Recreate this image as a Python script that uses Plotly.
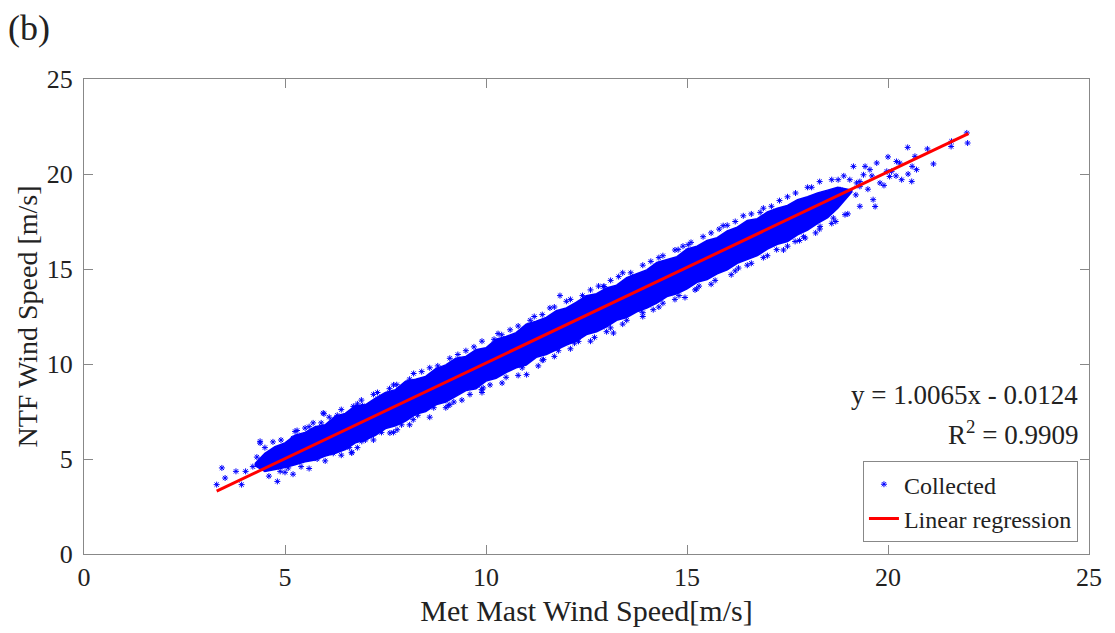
import plotly.graph_objects as go

# ---- data ----
# dense cloud envelope (Met Mast speed vs NTF speed)
env_x = [4.25, 4.5, 4.75, 5.0, 5.25, 5.5, 5.75, 6.0, 6.25, 6.5, 6.75, 7.0, 7.25, 7.5, 7.75,
         8.0, 8.25, 8.5, 8.75, 9.0, 9.25, 9.5, 9.75, 10.0, 10.25, 10.5, 10.75, 11.0, 11.25, 11.5,
         11.75, 12.0, 12.25, 12.5, 12.75, 13.0, 13.25, 13.5, 13.75, 14.0, 14.25, 14.5, 14.75, 15.0,
         15.25, 15.5, 15.75, 16.0, 16.25, 16.5, 16.75, 17.0, 17.25, 17.5, 17.75, 18.0, 18.25, 18.5,
         18.75, 19.1]
env_hi = [4.75, 5.3, 5.65, 5.85, 6.25, 6.4, 6.7, 6.8, 7.25, 7.4, 7.8, 7.85, 8.2, 8.5, 8.65,
          9.1, 9.2, 9.35, 9.75, 9.95, 10.3, 10.4, 10.75, 10.85, 11.3, 11.45, 11.65, 12.1, 12.25, 12.45,
          12.8, 12.95, 13.25, 13.6, 13.7, 14.0, 14.15, 14.55, 14.75, 14.95, 15.35, 15.5, 15.65, 16.05,
          16.2, 16.5, 16.65, 17.0, 17.2, 17.55, 17.65, 18.0, 18.2, 18.35, 18.65, 18.8, 19.0, 19.15,
          19.3, 19.15]
env_lo = [4.65, 4.35, 4.45, 4.55, 4.7, 4.85, 4.95, 5.15, 5.3, 5.5, 5.85, 6.0, 6.25, 6.6, 6.75,
          7.0, 7.35, 7.5, 7.85, 8.0, 8.3, 8.6, 8.7, 9.1, 9.25, 9.55, 9.8, 9.95, 10.35, 10.5,
          10.75, 11.0, 11.2, 11.55, 11.7, 11.95, 12.3, 12.45, 12.75, 12.95, 13.2, 13.55, 13.7, 13.95,
          14.3, 14.45, 14.75, 14.95, 15.3, 15.5, 15.7, 16.05, 16.3, 16.45, 16.8, 17.05, 17.4, 17.7,
          18.2, 19.05]

# individual (sparse / edge) collected points
pts_x = [3.30, 3.43, 3.51, 3.78, 3.92, 4.02, 4.38, 4.81, 4.88, 5.08, 5.25, 5.50, 5.97, 6.66, 6.91,
         7.61, 7.79, 6.93, 5.95, 8.19, 9.06, 7.78, 6.70, 6.66, 4.38,
         11.84, 12.92, 13.17, 13.83, 14.16, 11.01, 11.43, 12.30, 9.93, 9.10, 10.39, 11.59,
         15.24, 14.95, 16.28, 15.90, 14.78, 12.94, 9.89,
         17.23, 17.69, 17.94, 18.93, 16.82, 15.03, 13.87,
         21.96, 21.98, 21.57, 21.58, 20.98, 21.13, 20.49, 20.67, 20.71, 20.59, 20.29, 20.21, 20.04,
         20.34, 19.72, 19.14, 19.43, 19.55, 19.39, 19.63, 19.68, 19.80, 19.97, 20.09, 18.64, 18.76,
         19.05, 19.22, 19.30, 18.81, 18.47, 18.39, 18.31,
         4.5, 4.7, 5.2, 5.6, 5.9, 6.3, 6.8, 7.2, 7.6, 8.1, 8.4, 8.8, 9.3, 9.7, 10.2, 10.6, 11.1,
         11.4, 12.0, 12.4, 12.8, 13.3, 13.6, 14.1, 14.4, 14.9, 15.4, 15.8, 16.2, 16.6, 17.1, 17.5,
         18.0, 18.3,
         4.6, 5.0, 5.4, 5.8, 6.2, 6.6, 7.0, 7.4, 7.9, 8.3, 8.7, 9.2, 9.6, 10.1, 10.5, 10.9, 11.4,
         11.8, 12.2, 12.7, 13.1, 13.5, 13.9, 14.4, 14.8, 15.3, 15.7, 16.2, 16.6, 17.0, 17.5, 17.9,
         18.3, 18.7,
         4.9, 5.3, 5.7, 6.1, 6.4, 6.9, 7.3, 7.7, 8.2, 8.6, 9.1, 9.5, 9.9, 10.3, 10.8, 11.2, 11.7,
         12.1, 12.6, 13.1, 13.4, 13.9, 14.3, 14.7, 15.1, 15.6, 16.0, 16.4, 16.9, 17.3, 17.7, 18.1,
         18.6, 18.9,
         5.2, 5.6, 6.0, 6.4, 6.8, 7.2, 7.7, 8.1, 8.6, 9.0, 9.4, 9.9, 10.4, 10.8, 11.3, 11.7, 12.1,
         12.6, 13.0, 13.4, 13.9, 14.3, 14.7, 15.2, 15.6, 16.1, 16.5, 16.9, 17.4, 17.8, 18.2, 18.6,
         19.0, 19.3,
         19.2, 19.5, 19.9, 20.2, 20.5, 20.0, 19.6, 19.3, 20.6, 4.3, 4.45, 4.2]
pts_y = [3.65, 4.53, 4.00, 4.35, 3.65, 4.35, 5.84, 3.82, 4.35, 4.53, 6.45, 6.63, 7.38, 5.32, 5.93,
         6.37, 6.54, 7.81, 7.42, 7.07, 7.81, 8.91, 7.77, 5.35, 5.93,
         13.60, 14.08, 11.63, 12.86, 12.86, 9.44, 10.23, 11.19, 8.74, 7.86, 11.54, 12.95,
         13.95, 13.50, 15.05, 17.28, 16.02, 14.08, 8.65,
         16.02, 16.45, 16.63, 17.86, 17.98, 16.28, 12.95,
         22.16, 21.63, 21.45, 21.72, 21.32, 20.53, 21.40, 20.93, 20.23, 19.61, 20.58, 20.66, 19.87,
         19.70, 20.58, 20.40, 20.40, 20.23, 19.96, 18.65, 18.29, 19.53, 20.14, 20.14, 17.68, 19.70,
         19.70, 19.53, 19.35, 19.17, 18.82, 18.12, 17.24,
         5.6, 5.9, 6.1, 6.7, 6.9, 7.3, 7.9, 8.4, 8.7, 9.2, 9.6, 9.9, 10.5, 10.9, 11.3, 11.8, 12.3,
         12.6, 13.3, 13.6, 14.1, 14.6, 14.8, 15.4, 15.7, 16.2, 16.7, 17.1, 17.5, 17.9, 18.3, 18.8,
         19.3, 19.6,
         4.1, 4.3, 4.6, 5.0, 5.3, 5.6, 6.0, 6.4, 6.8, 7.3, 7.7, 8.0, 8.4, 8.9, 9.3, 9.8, 10.2,
         10.7, 11.1, 11.4, 11.9, 12.3, 12.7, 13.2, 13.6, 14.1, 14.4, 14.9, 15.3, 15.7, 16.2, 16.7,
         17.1, 17.5,
         6.0, 6.5, 6.9, 7.2, 7.6, 8.1, 8.5, 8.9, 9.5, 9.8, 10.3, 10.7, 11.2, 11.6, 12.0, 12.5, 13.0,
         13.4, 13.9, 14.4, 14.8, 15.2, 15.6, 16.0, 16.4, 16.9, 17.3, 17.8, 18.2, 18.6, 19.0, 19.3,
         19.7, 19.9,
         4.2, 4.5, 4.9, 5.2, 5.6, 6.0, 6.4, 6.8, 7.2, 7.7, 8.1, 8.5, 9.0, 9.4, 9.9, 10.4, 10.8,
         11.2, 11.7, 12.1, 12.5, 13.0, 13.4, 13.9, 14.2, 14.7, 15.2, 15.6, 16.0, 16.5, 16.9, 17.4,
         17.9, 18.3,
         18.9, 19.2, 19.4, 19.9, 20.0, 20.9, 19.9, 19.6, 20.4, 5.1, 4.9, 4.6]

# regression line end points (y = 1.0065x - 0.0124)
reg_x = [3.3, 22.0]
reg_y = [3.31, 22.13]

x_ticks = [0, 5, 10, 15, 20, 25]
y_ticks = [0, 5, 10, 15, 20, 25]

FONT = "Liberation Serif"
BLUE = "#0000FF"
TXT = "#222222"

fig = go.Figure()

# dense part of the cloud
fig.add_trace(go.Scatter(
    x=env_x + env_x[::-1], y=env_hi + env_lo[::-1],
    fill="toself", fillcolor=BLUE, mode="lines",
    line=dict(color=BLUE, width=1.5), showlegend=False, hoverinfo="skip"))

fig.add_trace(go.Scatter(
    x=pts_x, y=pts_y, mode="markers", name="Collected",
    marker=dict(symbol="asterisk-open", size=5, color=BLUE, line=dict(color=BLUE, width=1))))

fig.add_trace(go.Scatter(
    x=reg_x, y=reg_y, mode="lines", name="Linear regression",
    line=dict(color="#FF0000", width=3)))

axis_common = dict(
    showline=True, linecolor="#888888", linewidth=1, mirror="ticks",
    ticks="inside", ticklen=9, tickcolor="#888888", tickwidth=1,
    showgrid=False, zeroline=False,
    tickfont=dict(family=FONT, size=26, color=TXT),
)

fig.update_layout(
    width=1115, height=633,
    margin=dict(l=84, r=26, t=79, b=79),
    paper_bgcolor="white", plot_bgcolor="white",
    font=dict(family=FONT, size=26, color=TXT),
    xaxis=dict(range=[0, 25], tickvals=x_ticks,
               title=dict(text="Met Mast Wind Speed[m/s]", font=dict(family=FONT, size=30, color=TXT), standoff=8),
               **axis_common),
    yaxis=dict(range=[0, 25], tickvals=y_ticks, ticklabelstandoff=5,
               title=dict(text="NTF Wind Speed [m/s]", font=dict(family=FONT, size=28, color=TXT), standoff=0),
               **axis_common),
    legend=dict(x=0.989, y=0.025, xanchor="right", yanchor="bottom",
                bgcolor="white", bordercolor="#888888", borderwidth=1,
                font=dict(family=FONT, size=24, color=TXT),
                tracegroupgap=0, itemwidth=30),
    showlegend=True,
)

fig.add_annotation(xref="paper", yref="paper", x=0.9906, y=(554 - 395) / 475,
                   xanchor="right", yanchor="middle", showarrow=False,
                   text="y = 1.0065x - 0.0124",
                   font=dict(family=FONT, size=27, color=TXT))
fig.add_annotation(xref="paper", yref="paper", x=0.9906, y=(554 - 433) / 475,
                   xanchor="right", yanchor="middle", showarrow=False,
                   text="R<sup>2</sup> = 0.9909",
                   font=dict(family=FONT, size=27, color=TXT))
fig.add_annotation(xref="paper", yref="paper", x=(6 - 84) / 1005, y=(554 - 6) / 475,
                   xanchor="left", yanchor="top", showarrow=False,
                   text="(b)", font=dict(family=FONT, size=36, color=TXT))

fig.write_html("out.html")
